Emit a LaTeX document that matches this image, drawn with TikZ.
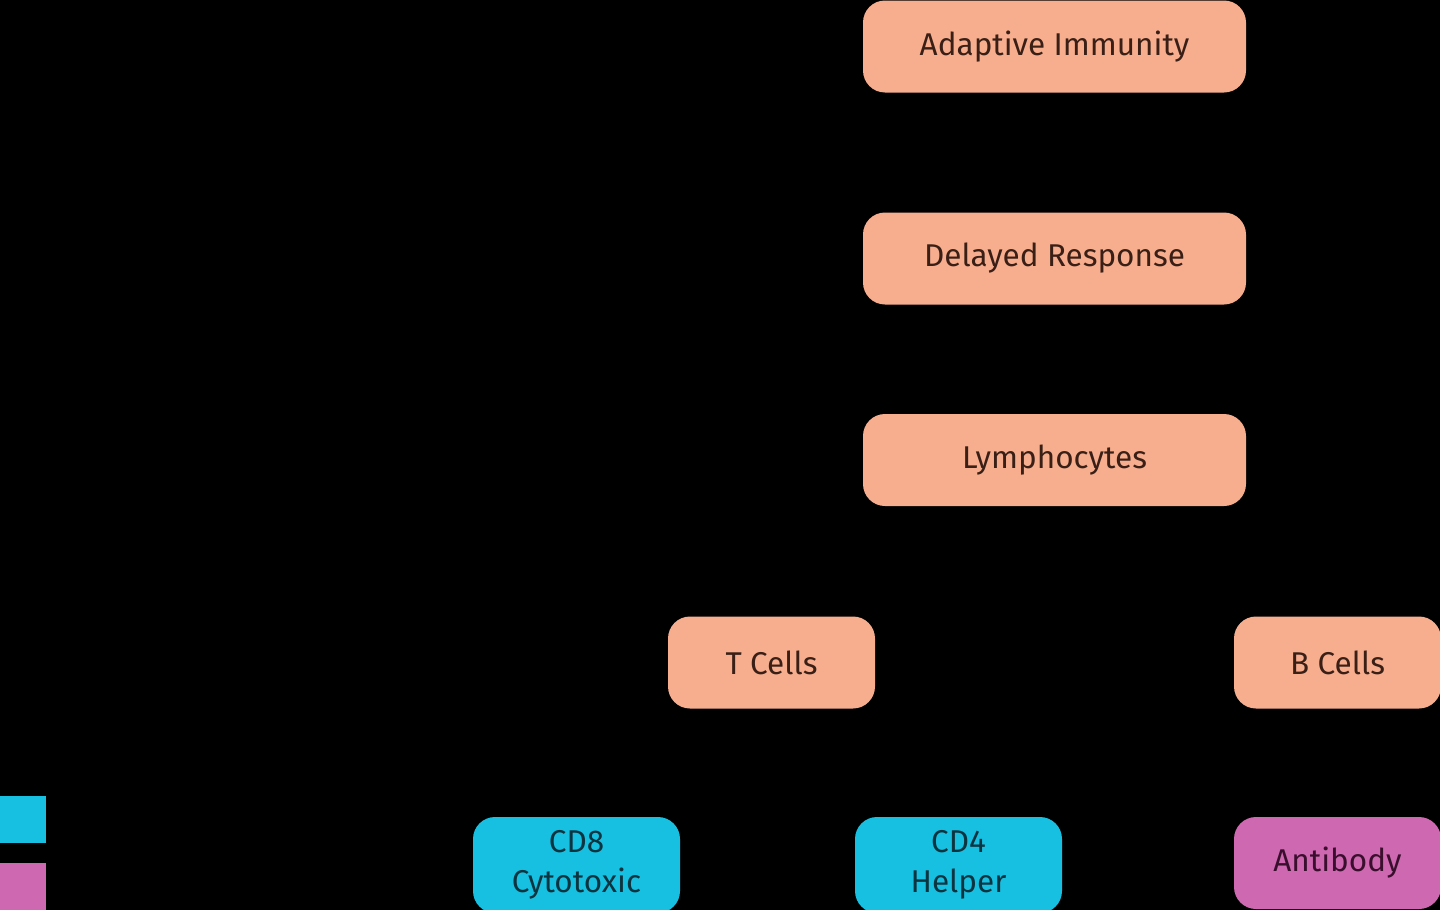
\documentclass[tikz,border=0pt]{standalone}
\usepackage{fontspec}
\setmainfont{Fira Sans}
\definecolor{salmon}{HTML}{F7AE8E}
\definecolor{cyanbox}{HTML}{17BFE0}
\definecolor{pinkbox}{HTML}{CE68B0}
\definecolor{salmontext}{HTML}{3A1F16}
\definecolor{cyantext}{HTML}{0A3440}
\definecolor{pinktext}{HTML}{3A0F2E}
\begin{document}
\begin{tikzpicture}[x=1pt,y=-1pt,
  box/.style={rounded corners=22pt, minimum height=92pt, inner sep=0pt, align=center,
    font=\fontsize{31.5}{40}\selectfont},
  orangebox/.style={box, fill=salmon, text=salmontext},
  cyannode/.style={box, fill=cyanbox, text=cyantext},
  pinknode/.style={box, fill=pinkbox, text=pinktext},
  legendsq/.style={minimum width=46pt, minimum height=47pt, inner sep=0pt}]
\fill[black] (0,0) rectangle (1440,910);
\useasboundingbox (0,0) rectangle (1440,910);
\clip (0,0) rectangle (1440,910);
\node[orangebox, minimum width=383pt] (adaptive) at (1054.5,46.5) {Adaptive Immunity};
\node[orangebox, minimum width=383pt] (delayed) at (1054.5,258.5) {Delayed Response};
\node[orangebox, minimum width=383pt] (lymph) at (1054.5,460) {Lymphocytes};
\node[orangebox, minimum width=207pt] (tcells) at (771.5,662.5) {T Cells};
\node[orangebox, minimum width=207pt] (bcells) at (1337.5,662.5) {B Cells};
\node[cyannode, minimum width=207pt, minimum height=96pt] (cd8) at (576.5,865) {CD8\\Cytotoxic};
\node[cyannode, minimum width=207pt, minimum height=96pt] (cd4) at (958.5,865) {CD4\\Helper};
\node[pinknode, minimum width=207pt] (antibody) at (1337.5,863) {Antibody};
\node[legendsq, fill=cyanbox] (legc) at (23,819.5) {};
\node[legendsq, fill=pinkbox] (legp) at (23,886.5) {};
\end{tikzpicture}
\end{document}
